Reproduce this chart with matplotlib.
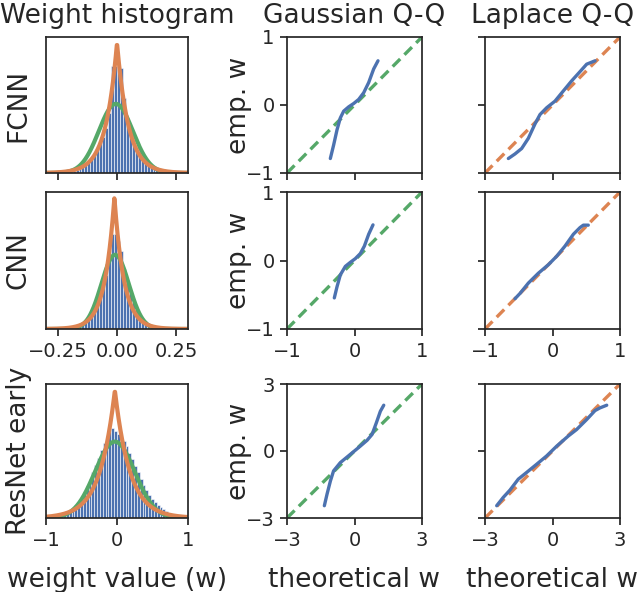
import numpy as np
import matplotlib
matplotlib.use("Agg")
import matplotlib.pyplot as plt

# ---- data ----
row_names = ["FCNN", "CNN", "ResNet early"]
col_titles = ["Weight histogram", "Gaussian Q-Q", "Laplace Q-Q"]

# histogram bin edges and densities
fc_edges = np.linspace(-0.2, 0.2, 33)
fc_heights = [0.1, 0.15, 0.25, 0.35, 0.5, 0.7, 0.9, 1.2, 1.5, 1.9, 2.4, 2.9, 3.6, 4.8,
              8.6, 8.6, 8.6, 8.4,
              6.0, 4.4, 3.4, 2.6, 2.1, 1.7, 1.4, 1.1, 0.85, 0.65, 0.45, 0.3, 0.2, 0.1]
cnn_edges = np.linspace(-0.2, 0.2, 33)
cnn_heights = [0.05, 0.1, 0.15, 0.25, 0.4, 0.6, 0.85, 1.2, 1.6, 2.2, 2.9, 3.8, 5.0, 7.3,
               8.8, 8.8, 8.2, 7.2,
               5.6, 4.3, 3.3, 2.5, 1.9, 1.4, 1.0, 0.75, 0.5, 0.35, 0.25, 0.15, 0.1, 0.05]
res_edges = np.linspace(-0.92, 0.92, 47)
res_heights = [0.03, 0.04, 0.05, 0.07, 0.09, 0.12, 0.15, 0.19, 0.24, 0.30,
               0.38, 0.48, 0.60, 0.72, 0.85, 0.98, 1.12, 1.26, 1.40, 1.52,
               1.60, 1.67, 1.62, 1.56, 1.50, 1.44, 1.34, 1.22, 1.10, 0.97,
               0.85, 0.72, 0.62, 0.52, 0.43, 0.35, 0.29, 0.24, 0.20, 0.16,
               0.13, 0.10, 0.08, 0.06, 0.04, 0.03]

# fitted distributions: (mu, sigma) gaussian, (mu, b) laplace
gauss_fit = [(-0.005, 0.072), (-0.008, 0.058), (-0.03, 0.28)]
laplace_fit = [(0.0, 0.048), (-0.011, 0.041), (-0.03, 0.21)]

# Q-Q curves: theoretical vs empirical
gq_x = [
    [-0.358, -0.309, -0.259, -0.21, -0.16, -0.086, -0.012, 0.062, 0.136, 0.21, 0.284, 0.348],
    [-0.299, -0.259, -0.21, -0.136, -0.062, 0.012, 0.086, 0.146, 0.21, 0.274],
    [-1.34, -1.22, -1.07, -0.93, -0.63, -0.33, -0.04, 0.26, 0.56, 0.78, 0.97, 1.15, 1.30],
]
gq_y = [
    [-0.787, -0.588, -0.365, -0.19, -0.09, -0.027, 0.022, 0.082, 0.18, 0.33, 0.53, 0.65],
    [-0.546, -0.383, -0.21, -0.086, -0.027, 0.027, 0.101, 0.21, 0.383, 0.52],
    [-2.45, -1.93, -1.34, -0.89, -0.52, -0.27, -0.03, 0.22, 0.48, 0.74, 1.26, 1.78, 2.05],
]
lq_x = [
    [-0.654, -0.556, -0.457, -0.358, -0.26, -0.185, -0.086, 0.037, 0.16, 0.284, 0.407, 0.506, 0.63],
    [-0.556, -0.481, -0.358, -0.21, -0.062, 0.062, 0.185, 0.309, 0.407, 0.457, 0.53],
    [-2.48, -2.19, -1.89, -1.52, -1.15, -0.70, -0.26, 0.19, 0.70, 1.07, 1.52, 1.89, 2.11, 2.41],
]
lq_y = [
    [-0.787, -0.72, -0.64, -0.49, -0.28, -0.14, -0.04, 0.057, 0.206, 0.355, 0.49, 0.60, 0.65],
    [-0.558, -0.48, -0.33, -0.186, -0.062, 0.062, 0.21, 0.383, 0.48, 0.516, 0.516],
    [-2.45, -2.08, -1.75, -1.26, -0.96, -0.59, -0.22, 0.22, 0.67, 0.96, 1.41, 1.81, 1.93, 2.05],
]

hist_xlim = [(-0.3, 0.3), (-0.3, 0.3), (-1, 1)]
hist_xticks = [[-0.25, 0, 0.25], [-0.25, 0, 0.25], [-1, 0, 1]]
hist_ylim = [10.9, 12.7, 2.5]
qq_lim = [1, 1, 3]

BLUE = "#4C72B0"
GREEN = "#55A868"
ORANGE = "#DD8452"
DARK = "#262626"

plt.rcParams.update({
    "font.family": "DejaVu Sans",
    "axes.edgecolor": DARK,
    "axes.linewidth": 1.25,
    "xtick.color": DARK,
    "ytick.color": DARK,
    "xtick.major.width": 1.25,
    "ytick.major.width": 1.25,
    "xtick.major.size": 5,
    "ytick.major.size": 5,
    "xtick.major.pad": 4.5,
    "ytick.major.pad": 4,
    "xtick.labelsize": 14,
    "ytick.labelsize": 14,
    "text.color": DARK,
    "axes.labelcolor": DARK,
})

W, H = 640, 592
fig = plt.figure(figsize=(6.4, 5.92), dpi=100)

col_px = [(46, 188), (287, 422), (485, 620)]
row_px = [(37, 173), (192, 329), (384, 518)]


def make_ax(r, c):
    x0, x1 = col_px[c]
    y0, y1 = row_px[r]
    return fig.add_axes([x0 / W, 1 - y1 / H, (x1 - x0) / W, (y1 - y0) / H])


hists = [(fc_edges, fc_heights), (cnn_edges, cnn_heights), (res_edges, res_heights)]

for r in range(3):
    # histogram column
    ax = make_ax(r, 0)
    edges, heights = hists[r]
    ax.bar(edges[:-1], heights, width=np.diff(edges), align="edge",
           color=BLUE, edgecolor="white", linewidth=0.4)
    xs = np.linspace(hist_xlim[r][0], hist_xlim[r][1], 400)
    mu, s = gauss_fit[r]
    ax.plot(xs, np.exp(-0.5 * ((xs - mu) / s) ** 2) / (s * np.sqrt(2 * np.pi)),
            color=GREEN, lw=3)
    mu, b = laplace_fit[r]
    ax.plot(xs, np.exp(-np.abs(xs - mu) / b) / (2 * b), color=ORANGE, lw=3)
    ax.set_xlim(hist_xlim[r])
    ax.set_ylim(0, hist_ylim[r])
    ax.set_xticks(hist_xticks[r])
    if r == 0:
        ax.set_xticklabels([])
    elif r == 1:
        ax.set_xticklabels(["\u22120.25", "0.00", "0.25"])
    ax.set_yticks([])
    ax.set_ylabel(row_names[r], fontsize=19)
    ax.yaxis.set_label_coords(-0.10, 0.5)
    if r == 0:
        ax.set_title(col_titles[0], fontsize=19, pad=10)
    if r == 2:
        ax.set_xlabel("weight value (w)", fontsize=19, labelpad=12)

    # Q-Q columns
    lim = qq_lim[r]
    for c, (qx, qy, dcol) in enumerate([(gq_x, gq_y, GREEN), (lq_x, lq_y, ORANGE)], start=1):
        ax = make_ax(r, c)
        ax.plot([-lim, lim], [-lim, lim], color=dcol, lw=2.4, dashes=(3.2, 1.8))
        ax.plot(qx[r], qy[r], color=BLUE, lw=2.4, solid_capstyle="round")
        ax.set_xlim(-lim, lim)
        ax.set_ylim(-lim, lim)
        ax.set_xticks([-lim, 0, lim])
        ax.set_yticks([-lim, 0, lim])
        if r == 0:
            ax.set_xticklabels([])
        if c == 2:
            ax.set_yticklabels([])
        else:
            ax.set_ylabel("emp. w", fontsize=19)
            ax.yaxis.set_label_coords(-0.26, 0.5)
        if r == 0:
            ax.set_title(col_titles[c], fontsize=19, pad=10)
        if r == 2:
            ax.set_xlabel("theoretical w", fontsize=19, labelpad=12)

fig.savefig("out.png", dpi=100)
